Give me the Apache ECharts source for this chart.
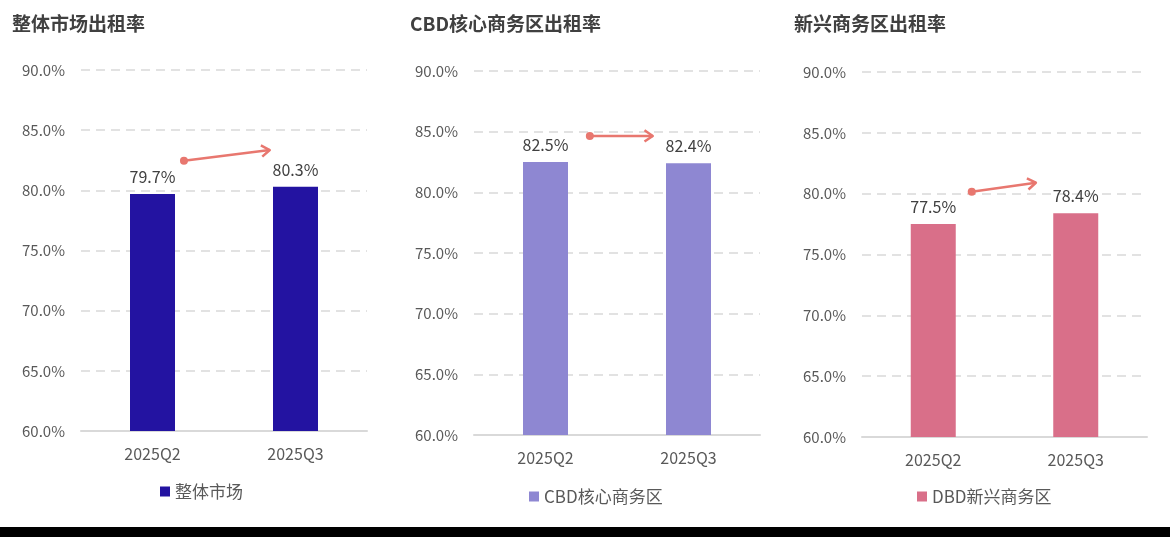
<!DOCTYPE html>
<html><head><meta charset="utf-8">
<script src="https://cdn.jsdelivr.net/npm/echarts@6/dist/echarts.min.js"></script>
<style>html,body{margin:0;padding:0;background:#fff}#c{width:1170px;height:537px}</style>
</head><body><div id="c"></div>
<script>
const categories = ['2025Q2', '2025Q3'];
const overallValues = [79.7, 80.3];
const cbdValues = [82.5, 82.4];
const dbdValues = [77.5, 78.4];
const panelTitles = ['整体市场出租率', 'CBD核心商务区出租率', '新兴商务区出租率'];
const seriesNames = ['整体市场', 'CBD核心商务区', 'DBD新兴商务区'];
const yTicks = { min: 60, max: 90, interval: 5 };
// arrow annotations: [start fraction between categories, start value, end fraction, end value]
const arrowMarks = [
  [0.22, 82.45, 0.82, 83.35],
  [0.31, 84.65, 0.75, 84.65],
  [0.27, 80.15, 0.72, 80.9]
];

const seriesData = [overallValues, cbdValues, dbdValues];
const colors = ['#2313A1', '#8E87D2', '#D96F89'];
const grids = [
  { left: 81, width: 286, top: 70, height: 361 },
  { left: 474, width: 286, top: 71, height: 364 },
  { left: 862, width: 285, top: 72, height: 365 }
];
const titleLeft = [7, 405, 789];
const legendLeft = [155, 524, 912];
const legendTop = [478, 483, 483];
const FONT = '"Noto Sans CJK SC", "Noto Sans", sans-serif';

const chart = echarts.init(document.getElementById('c'), null, { renderer: 'canvas' });

const option = {
  backgroundColor: '#fff',
  animation: false,
  title: panelTitles.map((t, i) => ({
    text: t, left: titleLeft[i], top: 9,
    textStyle: { fontFamily: FONT, fontSize: 19, fontWeight: 'bold', color: '#404040' }
  })),
  legend: seriesNames.map((n, i) => ({
    data: [n], left: legendLeft[i], top: legendTop[i],
    icon: 'rect', itemWidth: 10, itemHeight: 10, itemGap: 5,
    textStyle: { fontFamily: FONT, fontSize: 17, color: '#595959' }
  })),
  grid: grids.map(g => Object.assign({ containLabel: false }, g)),
  xAxis: grids.map((g, i) => ({
    type: 'category', gridIndex: i, data: categories,
    axisTick: { show: false },
    axisLine: { lineStyle: { color: '#D9D9D9', width: 2 } },
    axisLabel: { fontFamily: FONT, fontSize: 16, color: '#595959', margin: 15 }
  })),
  yAxis: grids.map((g, i) => ({
    type: 'value', gridIndex: i, min: yTicks.min, max: yTicks.max, interval: yTicks.interval,
    axisLine: { show: false }, axisTick: { show: false },
    axisLabel: { fontFamily: FONT, fontSize: 15, color: '#595959', margin: 16,
      formatter: v => v.toFixed(1) + '%' },
    splitLine: { lineStyle: { color: '#D9D9D9', width: 1.5, type: [9, 6] } }
  })),
  series: seriesNames.map((n, i) => ({
    name: n, type: 'bar', xAxisIndex: i, yAxisIndex: i,
    data: seriesData[i], barWidth: 45,
    itemStyle: { color: colors[i] },
    label: { show: true, position: 'top', distance: 9, fontFamily: FONT, fontSize: 16,
      color: '#404040', formatter: p => p.value.toFixed(1) + '%' }
  }))
};
chart.setOption(option);

function arrowGraphic(i) {
  const [f0, v0, f1, v1] = arrowMarks[i];
  const p0 = chart.convertToPixel({ gridIndex: i }, [0, v0]);
  const p1 = chart.convertToPixel({ gridIndex: i }, [1, v1]);
  const q0 = chart.convertToPixel({ gridIndex: i }, [0, v0]);
  const q1 = chart.convertToPixel({ gridIndex: i }, [0, v1]);
  const xa = p0[0] + f0 * (p1[0] - p0[0]);
  const xb = p0[0] + f1 * (p1[0] - p0[0]);
  const ya = q0[1], yb = q1[1];
  const ang = Math.atan2(yb - ya, xb - xa);
  const L = 10, spread = 0.6;
  const h1 = [xb - L * Math.cos(ang - spread), yb - L * Math.sin(ang - spread)];
  const h2 = [xb - L * Math.cos(ang + spread), yb - L * Math.sin(ang + spread)];
  const c = '#E8776F';
  return [
    { type: 'line', shape: { x1: xa, y1: ya, x2: xb, y2: yb }, style: { stroke: c, lineWidth: 2.5 } },
    { type: 'circle', shape: { cx: xa, cy: ya, r: 4 }, style: { fill: c } },
    { type: 'polyline', shape: { points: [h1, [xb, yb], h2] }, style: { stroke: c, lineWidth: 2.5, fill: null, lineJoin: 'round' } }
  ];
}
const g = [];
for (let i = 0; i < 3; i++) g.push(...arrowGraphic(i));
g.push({ type: 'rect', shape: { x: 0, y: 527, width: 1170, height: 10 }, style: { fill: '#000' } });
chart.setOption({ graphic: g });
</script></body></html>
